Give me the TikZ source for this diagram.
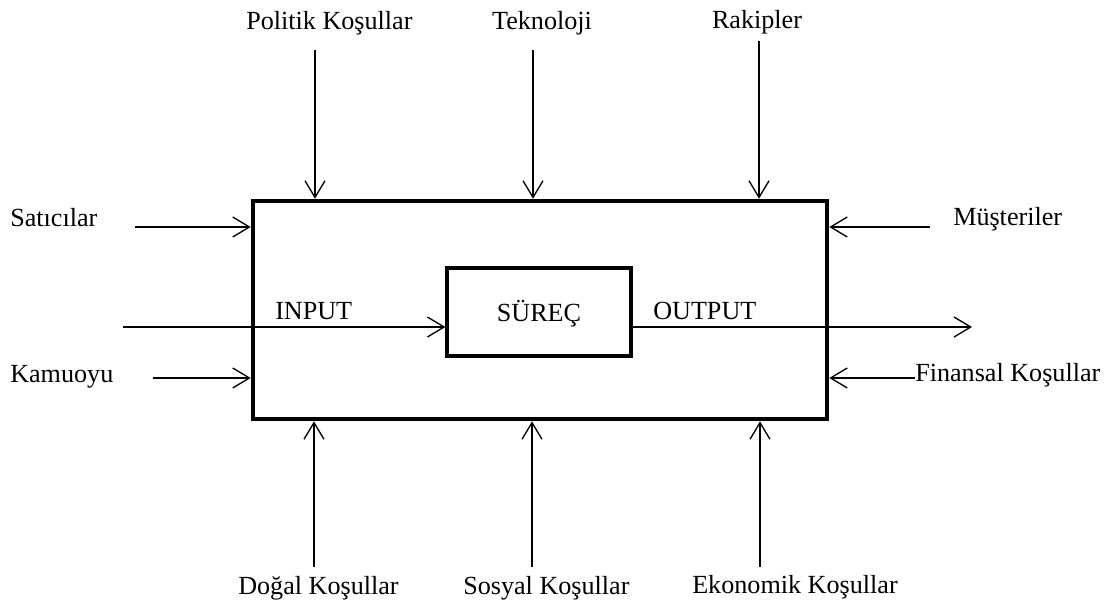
\documentclass[tikz,border=0pt]{standalone}
\usepackage{fontspec}
\setmainfont{Liberation Serif}
\usetikzlibrary{arrows.meta,fit}
\begin{document}
\begin{tikzpicture}[x=0.75pt,y=-0.75pt,
  lbl/.style={inner sep=0pt,font=\fontsize{19.6pt}{23pt}\selectfont},
  conn/.style={line width=1pt,-{Straight Barb[length=12.5pt,width=15pt,line width=1pt]}},
  bigbox/.style={draw,line width=3.4pt,inner sep=0pt},
  smallbox/.style={draw,line width=2.4pt,inner sep=0pt}]
\useasboundingbox (0,0) rectangle (1114,604);
% boxes
\node[bigbox,fit={(253,201) (827,419)}] (outer) {};
\node[smallbox,fit={(447,268) (631,356)}] (inner) {};
\node[lbl,anchor=base] (surec) at (539,321) {SÜREÇ};
% labels
\node[lbl,anchor=base west] (pol) at (246,29) {Politik Koşullar};
\node[lbl,anchor=base] (tek) at (542,29) {Teknoloji};
\node[lbl,anchor=base] (rak) at (757,28.5) {Rakipler};
\node[lbl,anchor=base west] (sat) at (10,226) {Satıcılar};
\node[lbl,anchor=base west] (kam) at (10,382) {Kamuoyu};
\node[lbl,anchor=base west] (mus) at (953,225) {Müşteriler};
\node[lbl,anchor=base west] (fin) at (915,381) {Finansal Koşullar};
\node[lbl,anchor=base west] (inp) at (275,319) {INPUT};
\node[lbl,anchor=base west] (outp) at (653,319) {OUTPUT};
\node[lbl,anchor=base west] (dog) at (238,594) {Doğal Koşullar};
\node[lbl,anchor=base west] (sos) at (463,594) {Sosyal Koşullar};
\node[lbl,anchor=base west] (eko) at (692,593) {Ekonomik Koşullar};
% free ends
\coordinate (polS) at (315,50);
\coordinate (tekS) at (533,50);
\coordinate (rakS) at (759,41);
\coordinate (dogS) at (314,567);
\coordinate (sosS) at (532,567);
\coordinate (ekoS) at (760,567);
\coordinate (satS) at (135,227);
\coordinate (kamS) at (153,378);
\coordinate (musS) at (930,227);
\coordinate (finS) at (915,378);
\coordinate (inS) at (123,327);
\coordinate (outE) at (972,327);
% connectors
\draw[conn] (polS) -- (polS |- outer.north);
\draw[conn] (tekS) -- (tekS |- outer.north);
\draw[conn] (rakS) -- (rakS |- outer.north);
\draw[conn] (dogS) -- (dogS |- outer.south);
\draw[conn] (sosS) -- (sosS |- outer.south);
\draw[conn] (ekoS) -- (ekoS |- outer.south);
\draw[conn] (satS) -- (satS -| outer.west);
\draw[conn] (kamS) -- (kamS -| outer.west);
\draw[conn] (musS) -- (musS -| outer.east);
\draw[conn] (finS) -- (finS -| outer.east);
\draw[conn] (inS) -- (inS -| inner.west);
\draw[conn] (inner.east |- outE) -- (outE);
\end{tikzpicture}
\end{document}
